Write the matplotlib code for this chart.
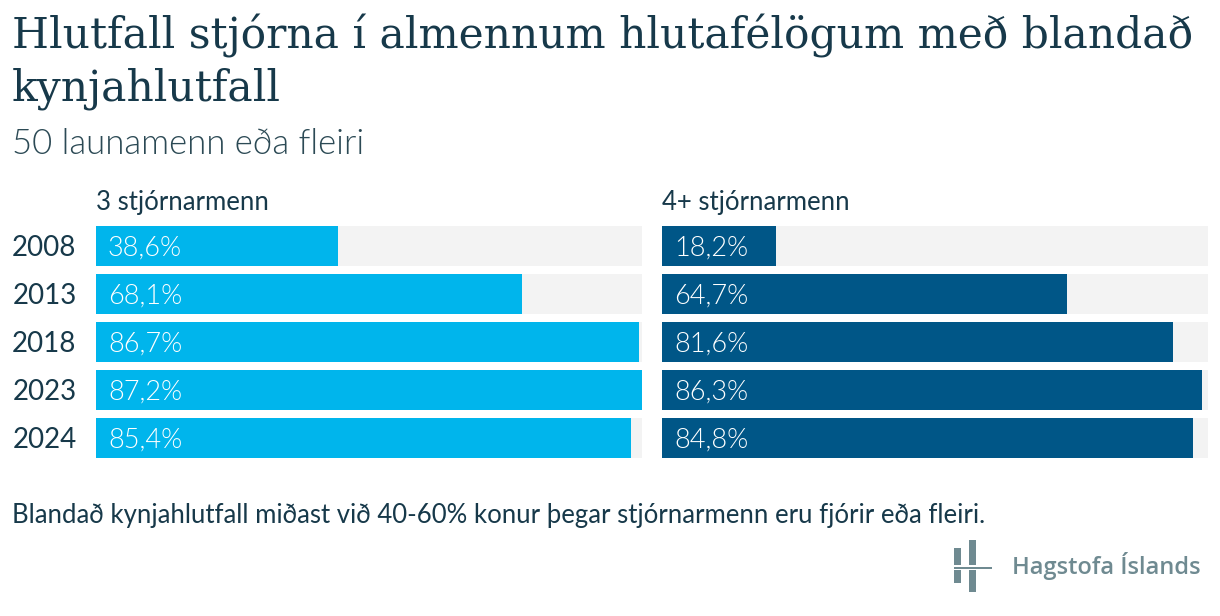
import matplotlib
matplotlib.use('Agg')
import matplotlib.pyplot as plt
from matplotlib.patches import Rectangle

# gögn
years = ['2008', '2013', '2018', '2023', '2024']
small_boards = [38.6, 68.1, 86.7, 87.2, 85.4]   # 3 stjórnarmenn
large_boards = [18.2, 64.7, 81.6, 86.3, 84.8]   # 4+ stjórnarmenn
panel_titles = ['3 stjórnarmenn', '4+ stjórnarmenn']
title_lines = ['Hlutfall stjórna í almennum hlutafélögum með blandað', 'kynjahlutfall']

dark = '#17394a'
colors = ['#00b5ec', '#005687']
track = '#f3f3f3'

W, H = 1220, 616
fig = plt.figure(figsize=(W / 100, H / 100), dpi=100)
fig.patch.set_facecolor('white')

xmax = max(small_boards + large_boards)

def px_axes(x0, x1, y0, y1):
    # pixel box -> figure fraction
    return fig.add_axes([x0 / W, 1 - y1 / H, (x1 - x0) / W, (y1 - y0) / H])

ax1 = px_axes(96, 642, 222, 462)
ax2 = px_axes(662, 1208, 222, 462)

for ax, vals, col, ttl in [(ax1, small_boards, colors[0], panel_titles[0]),
                           (ax2, large_boards, colors[1], panel_titles[1])]:
    pos = list(range(len(years)))
    ax.barh(pos, [xmax] * len(pos), height=40 / 48, color=track, zorder=1)
    ax.barh(pos, vals, height=40 / 48, color=col, zorder=2)
    for i, v in enumerate(vals):
        lbl = f'{v:.1f}%'.replace('.', ',')
        ax.annotate(lbl, xy=(0, i), xytext=(8.6, 0), textcoords='offset points',
                    ha='left', va='center_baseline', color='white',
                    fontsize=19.5, family='Lato', fontweight=300, zorder=3)
    ax.set_xlim(0, xmax)
    ax.set_ylim(len(years) - 0.5, -0.5)
    ax.set_xticks([])
    for s in ax.spines.values():
        s.set_visible(False)
    ax.annotate(ttl, xy=(0, 1), xycoords='axes fraction', xytext=(0, 8.6),
                textcoords='offset points', ha='left', va='baseline',
                fontsize=18.5, family='Lato', color=dark)

ax1.set_yticks(range(len(years)))
ax1.set_yticklabels(years, fontsize=20, family='Lato', color=dark)
ax1.tick_params(axis='y', length=0, pad=14)
ax2.set_yticks([])

# titlar
for k, line in enumerate(title_lines):
    fig.text(12 / W, 1 - (49 + 51 * k) / H, line, ha='left', va='baseline',
             fontsize=30.5, family='DejaVu Serif', color=dark)
fig.text(12 / W, 1 - 154 / H, '50 launamenn eða fleiri', ha='left', va='baseline',
         fontsize=25, family='Lato', fontweight=300, color='#2c4a55')

fig.text(12 / W, 1 - 523 / H,
         'Blandað kynjahlutfall miðast við 40-60% konur þegar stjórnarmenn eru fjórir eða fleiri.',
         ha='left', va='baseline', fontsize=18.5, family='Lato', color=dark)

# merki
logo = '#6f8a91'
for (x0, y0, x1, y1) in [(954, 548, 961, 565), (954, 570, 961, 583),
                         (969, 540, 976, 565), (969, 570, 976, 592),
                         (954, 566.5, 992, 568.5)]:
    fig.patches.append(Rectangle((x0 / W, 1 - y1 / H), (x1 - x0) / W, (y1 - y0) / H,
                                 transform=fig.transFigure, color=logo, lw=0))
fig.text(1012 / W, 1 - 574 / H, 'Hagstofa Íslands', ha='left', va='baseline',
         fontsize=17, family='Open Sans', fontweight='semibold', color=logo)

fig.savefig('out.png', dpi=100)
